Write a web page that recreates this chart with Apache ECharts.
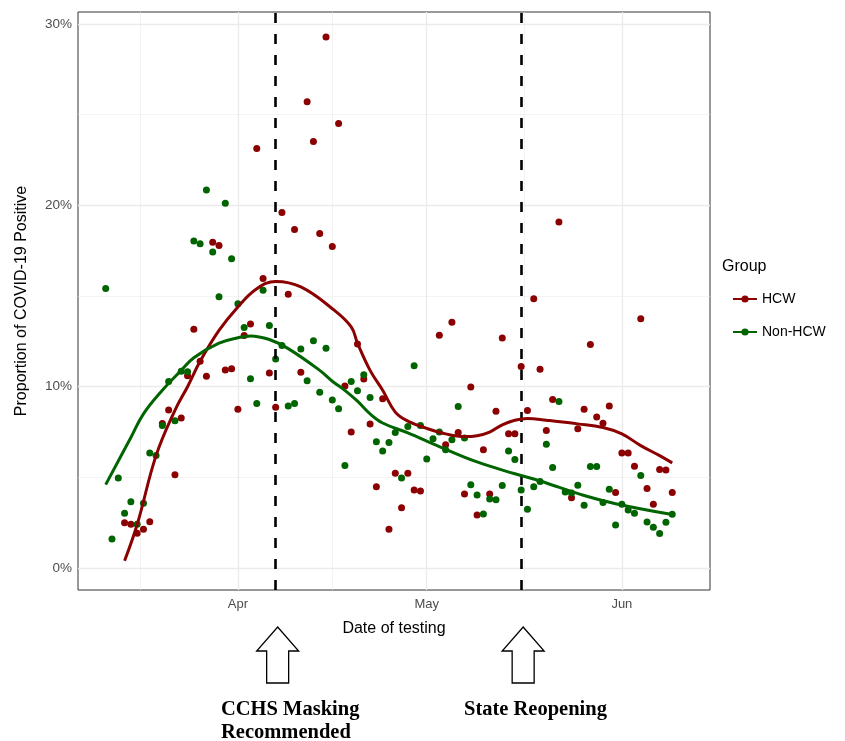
<!DOCTYPE html>
<html>
<head>
<meta charset="utf-8">
<script src="https://cdn.jsdelivr.net/npm/echarts@6.0.0/dist/echarts.min.js"></script>
<style>
html, body { margin: 0; padding: 0; background: #fff; }
#main { width: 845px; height: 741px; }
</style>
</head>
<body>
<div id="main"></div>
<script>
// day 0 = 1 April, values are percent positive
var hcwDays = [-18,-17,-16,-15,-14,-12,-11,-10,-9,-8,-7,-6,-5,-4,-3,-2,-1,0,1,2,3,4,5,6,7,8,9,10,11,12,13,14,15,16,17,18,19,20,21,22,23,24,25,26,27,28,29,32,33,34,35,36,37,38,39,40,41,42,43,44,45,46,47,48,49,50,51,53,54,55,56,57,58,59,60,61,62,63,64,65,66,67,68,69];
var hcwPct = [2.50,2.41,1.92,2.14,2.56,
  7.97,8.71,5.14,8.27,10.61,13.17,11.40,10.57,17.97,17.79,
  10.92,10.99,8.76,12.82,13.46,23.13,15.97,10.76,8.86,19.60,
  15.10,18.67,10.79,25.71,23.52,18.44,29.28,17.73,24.51,10.04,
  7.50,12.36,10.43,7.94,4.48,9.34,2.14,5.23,3.33,5.23,
  4.31,4.25,
  12.83,6.80,13.55,7.48,4.09,9.98,2.93,6.52,4.09,8.64,
  12.69,7.40,7.40,11.12,8.69,14.85,10.96,7.59,9.30,19.08,
  3.88,7.68,8.75,12.32,8.33,7.99,8.93,4.16,6.34,6.34,
  5.62,13.74,4.38,3.52,5.43,5.40,4.16];

var nonDays = [-21,-20,-19,-18,-17,-16,-15,-14,-13,-12,-11,-10,-9,-8,-7,-6,-5,-4,-3,-2,-1,0,1,2,3,4,5,6,7,8,9,10,11,12,13,14,15,16,17,18,19,20,21,22,23,24,25,26,27,28,29,30,31,32,33,34,35,36,37,38,39,40,41,42,43,44,45,46,47,48,49,50,51,52,53,54,55,56,57,58,59,60,61,62,63,64,65,66,67,68,69];
var nonPct = [15.41,1.60,4.96,3.02,3.66,2.41,3.57,6.34,6.20,7.86,
  10.28,8.12,10.85,10.83,18.03,17.88,20.85,17.42,14.96,20.11,
  17.06,14.57,13.26,10.44,9.08,15.32,13.37,11.53,12.27,8.93,
  9.08,12.08,10.33,12.54,9.70,12.12,9.27,8.78,5.65,10.29,
  9.78,10.66,9.41,6.96,6.46,6.92,7.48,4.96,7.81,11.16,
  7.86,6.02,7.13,7.50,6.52,7.07,8.91,7.17,4.59,4.03,
  2.98,3.81,3.76,4.55,6.45,5.98,4.30,3.24,4.48,4.77,
  6.83,5.54,9.19,4.20,4.14,4.57,3.46,5.60,5.60,3.61,
  4.35,2.38,3.52,3.20,3.02,5.10,2.54,2.25,1.90,2.52,2.97];

// loess curves
var hcwFitDays = [-18,-16,-13,-10,-8,-6,-3,0,3,6,10,15,18,19,21,23,25,27,30,33,36,38,40,42,44,46,49,54,58,61,64,67,69];
var hcwFitPct = [0.4,2.4,6.2,8.7,10.0,11.4,13.1,14.4,15.4,15.8,15.5,14.3,13.3,12.4,10.9,9.8,8.6,8.1,7.7,7.4,7.25,7.3,7.5,7.9,8.15,8.25,8.15,7.95,7.75,7.4,6.75,6.2,5.8];
var nonFitDays = [-21,-17,-15,-12,-9,-7,-3,0,2,5,8,13,15,17,19,21,23,27,32,38,44,48,55,60,69];
var nonFitPct = [4.6,7.2,8.5,9.8,10.9,11.6,12.4,12.7,12.8,12.6,12.1,10.9,10.3,9.8,9.2,8.5,8.0,7.45,6.7,5.85,5.2,4.8,4.0,3.55,2.95];

var xTickDays = [0, 30, 61];
var xTickLabels = ['Apr', 'May', 'Jun'];
var xMinorDays = [-15.5, 15, 45.5];
var yTicks = [0, 10, 20, 30];
var yMinor = [5, 15, 25];
var eventDays = [6, 45];   // Apr 7 masking, May 16 reopening

function pairs(xs, ys) {
    var out = [];
    for (var i = 0; i < xs.length; i++) out.push([xs[i], ys[i]]);
    return out;
}

var RED = '#8b0000';
var GREEN = '#006400';
var SANS = '"Liberation Sans", Arial, sans-serif';

var gridLines = [];
xTickDays.forEach(function (d) { gridLines.push({ xAxis: d, lineStyle: { width: 1.3 } }); });
xMinorDays.forEach(function (d) { gridLines.push({ xAxis: d, lineStyle: { width: 0.6 } }); });
yTicks.forEach(function (v) { gridLines.push({ yAxis: v, lineStyle: { width: 1.3 } }); });
yMinor.forEach(function (v) { gridLines.push({ yAxis: v, lineStyle: { width: 0.6 } }); });

var myChart = echarts.init(document.getElementById('main'), null, { renderer: 'canvas' });

var option = {
    animation: false,
    title: {
        text: 'Group',
        left: 722,
        top: 259,
        padding: 0,
        textStyle: { fontFamily: SANS, fontSize: 16, fontWeight: 'normal', color: '#000' }
    },
    legend: {
        orient: 'vertical',
        left: 732,
        top: 292,
        padding: 0,
        itemWidth: 24,
        itemHeight: 9,
        itemGap: 19,
        data: ['HCW', 'Non-HCW'],
        textStyle: { fontFamily: SANS, fontSize: 14, color: '#000' }
    },
    grid: {
        left: 78,
        right: 135,
        top: 12,
        bottom: 151,
        show: true,
        borderColor: '#333',
        borderWidth: 1,
        backgroundColor: '#fff'
    },
    xAxis: {
        type: 'value',
        min: -25.4,
        max: 75,
        name: 'Date of testing',
        nameLocation: 'middle',
        nameGap: 31,
        nameTextStyle: { fontFamily: SANS, fontSize: 16, color: '#000' },
        axisLine: { show: false },
        splitLine: { show: false },
        axisTick: { show: true, length: 4, customValues: xTickDays, lineStyle: { color: '#333' } },
        axisLabel: {
            customValues: xTickDays,
            margin: 8,
            fontFamily: SANS,
            fontSize: 13,
            color: '#4d4d4d',
            formatter: function (v) {
                var i = xTickDays.indexOf(v);
                return i >= 0 ? xTickLabels[i] : '';
            }
        }
    },
    yAxis: {
        type: 'value',
        min: -1.21,
        max: 30.66,
        name: 'Proportion of COVID-19 Positive',
        nameLocation: 'middle',
        nameGap: 48,
        nameRotate: 90,
        nameTextStyle: { fontFamily: SANS, fontSize: 16, color: '#000' },
        axisLine: { show: false },
        splitLine: { show: false },
        axisTick: { show: true, length: 4, customValues: yTicks, lineStyle: { color: '#333' } },
        axisLabel: {
            customValues: yTicks,
            margin: 6,
            fontFamily: SANS,
            fontSize: 13.5,
            color: '#4d4d4d',
            formatter: function (v) { return v + '%'; }
        }
    },
    series: [
        {
            name: 'HCW',
            type: 'line',
            z: 5,
            smooth: 0.4,
            symbol: 'circle',
            symbolSize: 7,
            showSymbol: false,
            itemStyle: { color: RED },
            lineStyle: { color: RED, width: 3 },
            data: pairs(hcwFitDays, hcwFitPct)
        },
        {
            name: 'Non-HCW',
            type: 'line',
            z: 5,
            smooth: 0.4,
            symbol: 'circle',
            symbolSize: 7,
            showSymbol: false,
            itemStyle: { color: GREEN },
            lineStyle: { color: GREEN, width: 3 },
            data: pairs(nonFitDays, nonFitPct)
        },
        {
            name: 'HCW',
            type: 'scatter',
            z: 3,
            symbolSize: 7,
            itemStyle: { color: RED, opacity: 1 },
            data: pairs(hcwDays, hcwPct)
        },
        {
            name: 'Non-HCW',
            type: 'scatter',
            z: 3,
            symbolSize: 7,
            itemStyle: { color: GREEN, opacity: 1 },
            data: pairs(nonDays, nonPct)
        },
        {
            // panel grid lines
            type: 'line',
            z: 1,
            silent: true,
            data: [],
            markLine: {
                z: 1,
                silent: true,
                symbol: ['none', 'none'],
                label: { show: false },
                lineStyle: { color: '#ebebeb', type: 'solid' },
                data: gridLines
            }
        },
        {
            // event dates
            type: 'line',
            z: 4,
            silent: true,
            data: [],
            markLine: {
                z: 4,
                silent: true,
                symbol: ['none', 'none'],
                label: { show: false },
                lineStyle: { color: '#000', type: [10, 11], width: 2.6 },
                data: eventDays.map(function (d) { return { xAxis: d }; })
            }
        }
    ]
};

myChart.setOption(option);

// outlined arrows and captions under the event lines
function arrow(cx) {
    var top = 627;
    return {
        type: 'polygon',
        shape: {
            points: [[cx, top], [cx + 21, top + 24], [cx + 11, top + 24], [cx + 11, top + 56],
                     [cx - 11, top + 56], [cx - 11, top + 24], [cx - 21, top + 24]]
        },
        style: { fill: '#fff', stroke: '#000', lineWidth: 1.3 }
    };
}
var captionFont = 'bold 20.5px "Liberation Serif", "Times New Roman", serif';
var ax1 = myChart.convertToPixel('grid', [eventDays[0], 0])[0] + 2;
var ax2 = myChart.convertToPixel('grid', [eventDays[1], 0])[0] + 2;

myChart.setOption({
    graphic: [
        arrow(ax1),
        arrow(ax2),
        { type: 'text', style: { text: 'CCHS Masking', x: 221, y: 710, font: captionFont, fill: '#000', verticalAlign: 'middle' } },
        { type: 'text', style: { text: 'Recommended', x: 221, y: 733, font: captionFont, fill: '#000', verticalAlign: 'middle' } },
        { type: 'text', style: { text: 'State Reopening', x: 464, y: 710, font: captionFont, fill: '#000', verticalAlign: 'middle' } }
    ]
});
</script>
</body>
</html>
